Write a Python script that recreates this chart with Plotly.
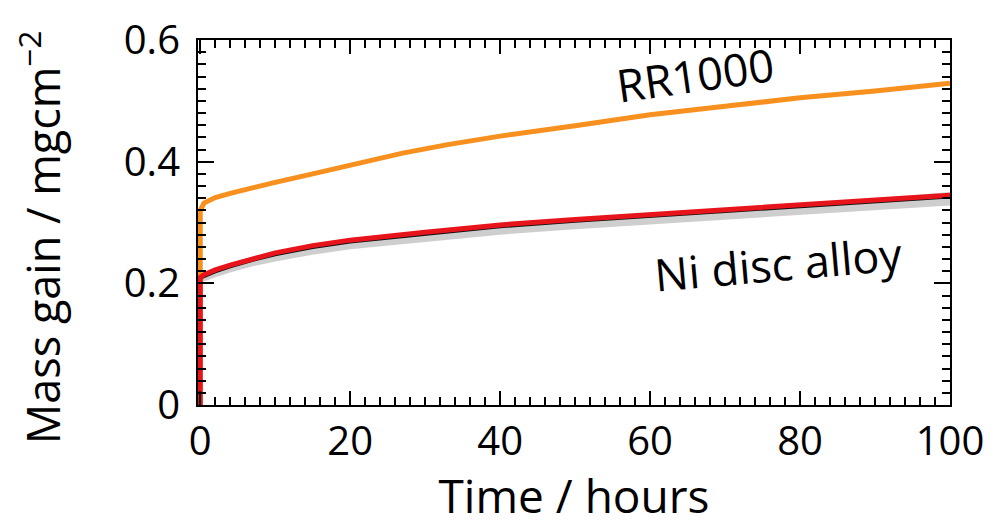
import plotly.graph_objects as go

# Time (hours)
t_rr = [0, 0, 0.5, 2, 4, 7, 10, 15, 20, 27, 33, 40, 50, 60, 70, 80, 90, 100]
rr1000 = [0.0, 0.32, 0.332, 0.341, 0.348, 0.358, 0.366, 0.380, 0.395, 0.414, 0.428, 0.442, 0.459, 0.477, 0.491, 0.505, 0.516, 0.529]

t_ni = [0, 0, 0.5, 2, 4, 7, 10, 15, 20, 30, 40, 50, 60, 67, 80, 90, 100]
ni_disc = [0.0, 0.21, 0.214, 0.222, 0.230, 0.241, 0.250, 0.262, 0.271, 0.284, 0.296, 0.305, 0.313, 0.318, 0.328, 0.336, 0.345]
ni_black = [0.0, 0.208, 0.211, 0.219, 0.227, 0.238, 0.247, 0.259, 0.268, 0.281, 0.293, 0.302, 0.310, 0.315, 0.325, 0.333, 0.342]
ni_lower = [0.0, 0.200, 0.203, 0.210, 0.218, 0.228, 0.236, 0.247, 0.256, 0.268, 0.280, 0.289, 0.297, 0.302, 0.312, 0.320, 0.328]
ni_upper = [0.0, 0.213, 0.217, 0.225, 0.233, 0.244, 0.253, 0.265, 0.274, 0.287, 0.299, 0.308, 0.316, 0.321, 0.331, 0.340, 0.350]

xticks = [0, 20, 40, 60, 80, 100]
yticks = [0, 0.2, 0.4, 0.6]
ytick_labels = ["0", "0.2", "0.4", "0.6"]

FONT = "Open Sans"

fig = go.Figure()
fig.add_trace(go.Scatter(x=t_ni, y=ni_upper, mode="lines", line=dict(width=0, color="#c8c8c8"),
                         showlegend=False, hoverinfo="skip"))
fig.add_trace(go.Scatter(x=t_ni, y=ni_lower, mode="lines", line=dict(width=0, color="#c8c8c8"),
                         fill="tonexty", fillcolor="rgba(190,190,190,0.75)", showlegend=False, hoverinfo="skip"))
fig.add_trace(go.Scatter(x=t_rr, y=rr1000, mode="lines", line=dict(width=5, color="#f7901e"),
                         showlegend=False))
fig.add_trace(go.Scatter(x=t_ni, y=ni_black, mode="lines", line=dict(width=3, color="#111111"),
                         showlegend=False))
fig.add_trace(go.Scatter(x=t_ni, y=ni_disc, mode="lines", line=dict(width=5, color="#e8141b"),
                         showlegend=False))

fig.add_annotation(x=66, y=0.5425, xref="x", yref="y", text="RR1000", showarrow=False,
                   textangle=-8, font=dict(family=FONT, size=45, color="black"))
fig.add_annotation(x=77, y=0.233, xref="x", yref="y", text="Ni disc alloy", showarrow=False,
                   textangle=-5, font=dict(family=FONT, size=45, color="black"))
fig.add_annotation(x=-0.21, y=0.46, xref="paper", yref="paper", xanchor="center", yanchor="middle",
                   text="Mass gain / mgcm<sup>−2</sup>",
                   showarrow=False, textangle=-90, font=dict(family=FONT, size=45, color="black"))

fig.update_layout(
    width=1003, height=526,
    margin=dict(l=198, r=53, t=40, b=121),
    paper_bgcolor="white", plot_bgcolor="white",
    font=dict(family=FONT, size=40, color="black"),
)
fig.update_xaxes(
    range=[-0.3, 100], tickvals=xticks, ticktext=[str(v) for v in xticks],
    showgrid=False, zeroline=False, showline=True, linecolor="black", linewidth=2,
    mirror="ticks", ticks="inside", ticklen=14, tickwidth=2, tickcolor="black",
    minor=dict(dtick=2, tick0=0, ticks="inside", ticklen=8, tickwidth=2, tickcolor="black", showgrid=False),
    title=dict(text="Time / hours", font=dict(family=FONT, size=46), standoff=4),
    tickfont=dict(family=FONT, size=40),
)
fig.update_yaxes(
    range=[0, 0.6], tickvals=yticks, ticktext=ytick_labels,
    showgrid=False, zeroline=False, showline=True, linecolor="black", linewidth=2,
    mirror="ticks", ticks="inside", ticklen=16, tickwidth=2, tickcolor="black",
    minor=dict(dtick=0.02, tick0=0, ticks="inside", ticklen=8, tickwidth=2, tickcolor="black", showgrid=False),
    tickfont=dict(family=FONT, size=40),
    ticklabelstandoff=8,
)

fig.write_html("out.html")
